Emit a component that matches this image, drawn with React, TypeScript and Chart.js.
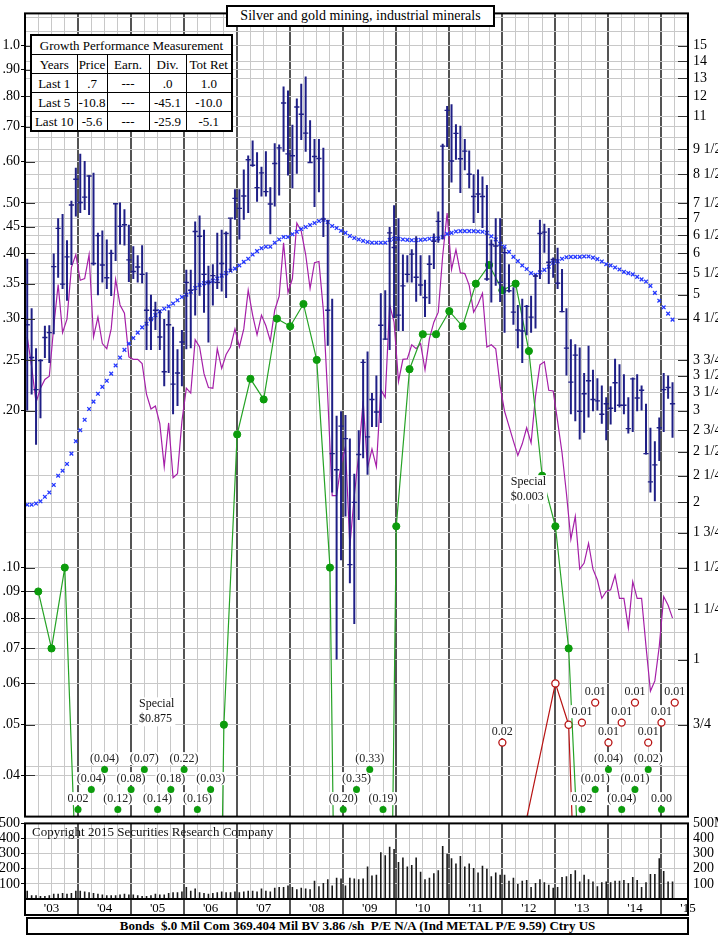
import React, { useEffect, useRef } from 'react';
import { Chart, registerables } from 'chart.js';

Chart.register(...registerables);

const SERIF = '"Liberation Serif", "Times New Roman", "DejaVu Serif", serif';

// ---------- time axis ----------
const FIRST_YEAR = 2003;
const LAST_X = 2015.5;
const YEAR_LABELS = ["'03", "'04", "'05", "'06", "'07", "'08", "'09", "'10", "'11", "'12", "'13", "'14", "'15"];

// ---------- price scale ----------
const PE_RATIO = 15; // left (earnings) scale = price scale / 15
const PRICE_MIN = 0.5;
const PRICE_MAX = 17.3;

// monthly price range, Jan 2003 .. Mar 2015
const PRICE_HIGH = [
  5.86, 4.71, 3.95, 3.76, 4.36, 4.37, 6.0, 7.01, 7.14, 6.36, 7.57, 8.76,
  9.31, 9.02, 8.47, 8.56, 6.57, 6.64, 6.38, 6.1, 7.49, 7.51, 7.29, 6.81,
  6.19, 5.95, 6.22, 5.52, 5.0, 4.85, 4.67, 4.49, 4.67, 4.34, 3.93, 4.28,
  5.58, 5.58, 6.91, 7.09, 6.66, 5.68, 5.72, 6.57, 6.66, 6.61, 7.01, 7.96,
  7.96, 8.69, 9.24, 9.87, 9.38, 8.79, 9.42, 8.03, 9.76, 9.7, 12.53, 12.31,
  10.58, 11.89, 12.69, 13.09, 10.8, 9.94, 9.94, 9.56, 6.96, 4.91, 2.93, 2.99,
  2.94, 2.65, 2.27, 2.75, 3.76, 3.89, 3.24, 3.5, 5.03, 5.1, 6.74, 7.42,
  7.01, 5.97, 5.95, 6.11, 6.47, 5.95, 5.34, 5.95, 6.55, 7.22, 9.73, 11.5,
  11.59, 10.61, 10.54, 9.94, 9.45, 8.51, 8.69, 8.42, 8.11, 6.38, 7.01, 7.01,
  6.15, 5.72, 5.17, 4.78, 4.91, 4.78, 4.98, 5.47, 6.96, 6.84, 6.71, 5.89,
  6.15, 5.6, 4.71, 4.11, 4.02, 3.96, 3.54, 3.99, 3.59, 3.46, 3.35, 3.18,
  3.34, 3.77, 3.68, 3.52, 3.18, 3.47, 3.52, 3.35, 3.09, 2.78, 2.62, 2.91,
  3.54, 3.5, 3.4,
];
const PRICE_LOW = [
  3.0, 3.22, 2.58, 2.9, 3.78, 3.7, 4.2, 5.39, 5.13, 4.87, 5.7, 7.06,
  7.17, 7.27, 7.11, 5.69, 4.99, 5.28, 5.13, 4.97, 5.8, 6.24, 6.21, 5.29,
  5.36, 5.28, 5.26, 3.92, 3.92, 4.28, 3.92, 3.34, 3.54, 2.95, 3.06, 3.34,
  3.93, 3.95, 4.56, 4.98, 4.62, 4.05, 4.77, 5.13, 5.07, 4.93, 5.53, 6.96,
  6.38, 6.96, 7.17, 8.79, 7.54, 7.71, 7.71, 6.53, 7.38, 7.75, 9.4, 8.46,
  8.0, 8.53, 9.9, 9.4, 8.95, 7.36, 7.86, 6.45, 3.99, 2.09, 1.0, 1.55,
  1.88, 1.4, 1.17, 1.85, 2.43, 2.26, 2.79, 2.79, 2.84, 4.1, 3.92, 4.51,
  4.26, 4.26, 5.28, 5.28, 4.85, 4.98, 4.53, 4.8, 5.6, 6.29, 6.38, 9.59,
  8.2, 9.07, 7.83, 8.66, 8.0, 6.86, 7.17, 6.71, 5.32, 4.83, 5.2, 4.84,
  4.23, 5.05, 4.38, 3.95, 3.7, 4.18, 4.23, 4.31, 5.36, 6.02, 5.24, 5.39,
  5.13, 4.63, 3.5, 2.95, 2.86, 2.64, 2.72, 2.91, 2.99, 3.0, 2.83, 2.63,
  2.82, 2.98, 3.04, 2.95, 2.71, 2.73, 2.99, 3.0, 2.47, 2.09, 2.01, 2.4,
  2.73, 3.16, 2.66,
];
const PRICE_CLOSE = [
  4.38, 3.79, 3.29, 3.74, 4.14, 4.23, 5.66, 6.7, 5.24, 5.91, 7.43, 8.32,
  7.51, 7.69, 8.44, 5.74, 6.49, 5.7, 5.39, 6.0, 7.47, 6.76, 6.81, 5.83,
  5.54, 5.65, 5.47, 4.67, 4.49, 4.67, 4.15, 3.56, 4.38, 3.37, 3.54, 4.06,
  5.28, 5.1, 6.61, 6.47, 5.47, 5.28, 5.44, 5.28, 5.74, 6.55, 7.01, 7.65,
  7.32, 7.73, 9.07, 8.85, 8.02, 8.56, 7.88, 7.46, 8.92, 9.56, 11.65, 9.31,
  9.23, 11.45, 11.09, 10.2, 8.96, 9.2, 9.12, 6.98, 4.67, 2.48, 2.31, 2.8,
  2.65, 1.52, 2.0, 2.47, 3.71, 2.67, 3.15, 2.98, 4.37, 4.11, 6.57, 6.16,
  4.57, 5.2, 5.47, 5.98, 5.4, 5.22, 4.94, 5.72, 6.33, 6.91, 9.63, 11.28,
  9.02, 10.19, 9.11, 9.42, 8.51, 7.71, 7.8, 7.71, 5.36, 6.24, 6.2, 5.28,
  6.02, 5.09, 4.63, 4.28, 4.26, 4.75, 4.53, 5.43, 6.55, 6.59, 5.77, 5.84,
  5.26, 4.64, 3.95, 3.4, 3.83, 2.99, 3.23, 3.42, 3.15, 3.13, 2.95, 3.09,
  3.03, 3.39, 3.07, 3.07, 2.77, 3.45, 3.17, 3.28, 2.48, 2.19, 2.36, 2.78,
  3.29, 3.32, 3.09,
];
// moving average (blue x)
const MOVING_AVG = [
  1.98, 1.98, 1.99, 2.01, 2.05, 2.09, 2.16, 2.25, 2.3, 2.37, 2.48, 2.62,
  2.75, 2.88, 3.02, 3.12, 3.23, 3.33, 3.42, 3.53, 3.66, 3.79, 3.92, 4.03,
  4.13, 4.23, 4.33, 4.4, 4.49, 4.57, 4.65, 4.7, 4.75, 4.81, 4.88, 4.95,
  5.0, 5.07, 5.15, 5.22, 5.26, 5.28, 5.32, 5.37, 5.44, 5.5, 5.56, 5.61,
  5.69, 5.78, 5.86, 5.97, 6.06, 6.14, 6.18, 6.18, 6.29, 6.38, 6.45, 6.45,
  6.53, 6.6, 6.68, 6.74, 6.8, 6.86, 6.92, 6.96, 6.89, 6.77, 6.71, 6.63,
  6.57, 6.48, 6.42, 6.38, 6.34, 6.31, 6.29, 6.29, 6.29, 6.29, 6.37, 6.4,
  6.4, 6.38, 6.37, 6.36, 6.36, 6.37, 6.38, 6.4, 6.4, 6.41, 6.45, 6.54,
  6.57, 6.61, 6.62, 6.62, 6.62, 6.62, 6.61, 6.6, 6.57, 6.47, 6.38, 6.26,
  6.18, 6.04, 5.91, 5.8, 5.69, 5.6, 5.5, 5.46, 5.52, 5.58, 5.66, 5.76,
  5.8, 5.86, 5.9, 5.91, 5.91, 5.91, 5.92, 5.92, 5.89, 5.85, 5.79, 5.72,
  5.69, 5.64, 5.59, 5.53, 5.5, 5.47, 5.41, 5.35, 5.3, 5.2, 5.04, 4.87,
  4.73, 4.6, 4.48,
];
// relative strength (purple)
const REL_STRENGTH = [
  4.15, 3.64, 3.11, 3.31, 3.44, 3.49, 4.34, 5.23, 4.23, 4.49, 5.64, 5.97,
  5.33, 5.37, 5.97, 4.15, 4.53, 4.03, 3.94, 4.3, 5.35, 4.78, 4.61, 3.8,
  3.76, 3.76, 3.69, 3.22, 3.02, 3.06, 2.83, 2.34, 2.84, 2.23, 2.27, 2.86,
  3.31, 3.24, 4.1, 3.97, 3.53, 3.32, 3.31, 3.94, 3.61, 3.84, 3.97, 4.3,
  3.97, 4.3, 5.1, 4.57, 4.19, 4.57, 4.36, 4.08, 4.67, 4.97, 6.29, 5.05,
  5.37, 6.86, 6.62, 5.97, 5.14, 5.76, 5.79, 4.67, 3.18, 2.06, 2.06, 2.36,
  2.56, 1.65, 2.06, 2.47, 3.13, 2.33, 2.53, 2.34, 3.29, 3.18, 4.78, 4.43,
  3.41, 3.76, 3.77, 4.01, 3.94, 4.03, 3.59, 4.12, 4.43, 4.63, 5.94, 7.17,
  5.59, 6.1, 5.51, 5.49, 5.21, 4.63, 4.8, 5.03, 3.97, 4.01, 3.94, 3.34,
  2.99, 2.8, 2.62, 2.46, 2.59, 2.78, 2.6, 3.2, 3.67, 3.72, 3.28, 3.27,
  2.86, 2.49, 2.08, 1.7, 1.88, 1.49, 1.53, 1.67, 1.49, 1.42, 1.31, 1.35,
  1.36, 1.45, 1.31, 1.31, 1.15, 1.41, 1.31, 1.31, 1.06, 0.87, 0.91, 1.06,
  1.32, 1.27, 1.2,
];
// monthly volume (thousands)
const VOLUME = [
  55, 25, 25, 20, 20, 25, 35, 35, 40, 35, 40, 55,
  55, 50, 45, 40, 35, 30, 25, 25, 25, 30, 35, 30,
  30, 25, 20, 20, 25, 35, 30, 30, 40, 45, 45, 50,
  80, 55, 70, 45, 40, 35, 40, 45, 50, 45, 45, 50,
  45, 50, 55, 55, 50, 70, 55, 50, 75, 80, 80, 90,
  80, 65, 75, 70, 65, 120, 85, 105, 130, 90, 140, 135,
  90, 140, 135, 130, 135, 215, 155, 160, 310, 290, 345, 330,
  245, 275, 215, 225, 275, 180, 130, 140, 170, 190, 350, 300,
  270, 235, 285, 215, 235, 205, 175, 220, 200, 150, 175, 160,
  160, 120, 140, 100, 120, 125, 80, 105, 130, 110, 95, 75,
  80, 145, 150, 165, 190, 115, 160, 130, 115, 85, 110, 115,
  110, 120, 120, 125, 105, 145, 125, 80, 110, 165, 165, 270,
  185, 115, 115,
];

// quarterly earnings (12-month), plotted on the left scale
const EARN_DATES = [
  2003.25, 2003.5, 2003.75,
  2004.0, 2004.25, 2004.5, 2004.75, 2005.0, 2005.25, 2005.5, 2005.75,
  2006.0, 2006.25, 2006.5, 2006.75, 2007.0, 2007.25, 2007.5, 2007.75,
  2008.0, 2008.25, 2008.5, 2008.75, 2009.0, 2009.25, 2009.5, 2009.75,
  2010.0, 2010.25, 2010.5, 2010.75, 2011.0, 2011.25, 2011.5, 2011.75,
  2012.0, 2012.25, 2012.5, 2012.75, 2013.0, 2013.25, 2013.5, 2013.75,
  2014.0, 2014.25, 2014.5, 2014.75, 2015.0,
];
const EARNINGS = [
  0.09, 0.07, 0.1,
  0.02, -0.04, -0.04, -0.12, -0.08, -0.07, -0.14, -0.18,
  -0.22, -0.16, -0.03, 0.05, 0.18, 0.23, 0.21, 0.3,
  0.29, 0.32, 0.25, 0.1, -0.2, -0.35, -0.33, -0.19,
  0.12, 0.24, 0.28, 0.28, 0.31, 0.29, 0.35, 0.38,
  0.34, 0.35, 0.26, 0.15, 0.12, 0.07, 0.02, -0.01,
  -0.04, -0.04, -0.01, -0.02, 0.0,
];
// dividends (red)
const DIV_DATES = [2012.0, 2013.0, 2013.25, 2013.5, 2013.75, 2014.0, 2014.25, 2014.5, 2014.75, 2015.0, 2015.25];
const DIVIDENDS = [0.02, 0.06, 0.05, 0.01, 0.01, 0.01, 0.01, 0.01, 0.01, 0.01, 0.01];

// ---------- axis labels ----------
const RIGHT_LABELS: [number, string][] = [
  [15, '15'], [14, '14'], [13, '13'], [12, '12'], [11, '11'], [9.5, '9 1/2'], [8.5, '8 1/2'],
  [7.5, '7 1/2'], [7, '7'], [6.5, '6 1/2'], [6, '6'], [5.5, '5 1/2'], [5, '5'], [4.5, '4 1/2'],
  [3.75, '3 3/4'], [3.5, '3 1/2'], [3.25, '3 1/4'], [3, '3'], [2.75, '2 3/4'], [2.5, '2 1/2'],
  [2.25, '2 1/4'], [2, '2'], [1.75, '1 3/4'], [1.5, '1 1/2'], [1.25, '1 1/4'], [1, '1'], [0.75, '3/4'],
];
const LEFT_LABELS: [number, string][] = [
  [1.0, '1.0'], [0.9, '.90'], [0.8, '.80'], [0.7, '.70'], [0.6, '.60'], [0.5, '.50'], [0.45, '.45'],
  [0.4, '.40'], [0.35, '.35'], [0.3, '.30'], [0.25, '.25'], [0.2, '.20'], [0.1, '.10'], [0.09, '.09'],
  [0.08, '.08'], [0.07, '.07'], [0.06, '.06'], [0.05, '.05'], [0.04, '.04'],
];
const PRICE_GRID = [
  17, 16, 15, 14, 13.5, 13, 12, 11, 10.5, 10, 9.5, 9, 8.5, 8, 7.5, 7, 6.75, 6.5, 6.25, 6, 5.75,
  5.5, 5.25, 5, 4.75, 4.5, 4.25, 4, 3.75, 3.5, 3.25, 3, 2.75, 2.5, 2.25, 2, 1.875, 1.75, 1.625,
  1.5, 1.35, 1.25, 1.2, 1.125, 1.05, 1, 0.9, 0.75, 0.625, 0.6, 0.5,
];
const VOL_TICKS = [100, 200, 300, 400, 500];

const TITLE = 'Silver and gold mining, industrial minerals';
const COPYRIGHT = 'Copyright 2015 Securities Research Company';
const FOOTER = 'Bonds  $.0 Mil Com 369.404 Mil BV 3.86 /sh  P/E N/A (Ind METAL P/E 9.59) Ctry US';
const GROWTH_TITLE = 'Growth Performance Measurement';
const GROWTH_HEAD = ['Years', 'Price', 'Earn.', 'Div.', 'Tot Ret'];
const GROWTH_ROWS = [
  ['Last 1', '.7', '---', '.0', '1.0'],
  ['Last 5', '-10.8', '---', '-45.1', '-10.0'],
  ['Last 10', '-5.6', '---', '-25.9', '-5.1'],
];
const NOTES = [
  { x: 2005.15, y: 0.0547, lines: ['Special', '$0.875'] },
  { x: 2012.16, y: 0.1458, lines: ['Special', '$0.003'] },
];

// ---------- styles ----------
const GRID_LINE = '#c8c8c8';
const YEAR_LINE = '#545454';
const BAR_COLOR = '#1f1f86';
const MA_COLOR = '#2538ff';
const RS_COLOR = '#a51fa8';
const EARN_LINE = '#26a326';
const EARN_DOT = '#0c9c0c';
const DIV_COLOR = '#b81414';
const OFF_SCALE = 0.001;

const RIGHT_MAP = new Map(RIGHT_LABELS);
const LEFT_MAP = new Map(LEFT_LABELS);
const monthX = (i: number) => FIRST_YEAR + (i + 0.5) / 12;
const quarterTicks = () => {
  const t: any[] = [];
  for (let v = FIRST_YEAR; v <= LAST_X + 1e-9; v += 0.25) t.push({ value: v });
  return t;
};
const isYearTick = (c: any) => c.tick && Math.abs(c.tick.value - Math.round(c.tick.value)) < 1e-6;

const xAxis = (withLabels: boolean): any => ({
  type: 'linear',
  min: FIRST_YEAR,
  max: LAST_X,
  offset: false,
  afterBuildTicks: (s: any) => { s.ticks = quarterTicks(); },
  afterFit: (s: any) => { s.height = withLabels ? 16 : 0; },
  grid: {
    offset: false,
    drawTicks: false,
    color: (c: any) => (isYearTick(c) ? YEAR_LINE : GRID_LINE),
    lineWidth: (c: any) => (isYearTick(c) ? 2 : 1),
  },
  border: { display: false },
  ticks: withLabels
    ? {
        autoSkip: false,
        maxRotation: 0,
        padding: 2,
        color: '#000',
        font: { family: SERIF, size: 13 },
        callback: (v: number) => {
          const f = v - Math.floor(v);
          return Math.abs(f - 0.5) < 1e-6 ? YEAR_LABELS[Math.floor(v) - FIRST_YEAR] ?? '' : '';
        },
      }
    : { display: false },
});

function line(ctx: CanvasRenderingContext2D, x1: number, y1: number, x2: number, y2: number) {
  ctx.beginPath();
  ctx.moveTo(x1, y1);
  ctx.lineTo(x2, y2);
  ctx.stroke();
}

function labelWithBg(ctx: CanvasRenderingContext2D, txt: string, x: number, y: number) {
  const w = ctx.measureText(txt).width;
  ctx.fillStyle = '#fff';
  ctx.fillRect(x - w / 2 - 1, y - 6.5, w + 2, 13);
  ctx.fillStyle = '#222';
  ctx.fillText(txt, x, y);
}

function drawOffScale(
  ctx: CanvasRenderingContext2D, xs: any, area: any, dates: number[], values: number[],
  minV: number, rows: number[], runStarts: number[], hollow: boolean, color: string,
) {
  let run = -1;
  let k = 0;
  let inRun = false;
  ctx.font = `12px ${SERIF}`;
  ctx.textAlign = 'center';
  ctx.textBaseline = 'middle';
  values.forEach((v, i) => {
    if (v >= minV) { inRun = false; return; }
    if (!inRun) { run += 1; inRun = true; k = runStarts[run] ?? 0; }
    const y = area.bottom - rows[k % rows.length];
    k += 1;
    const x = xs.getPixelForValue(dates[i]);
    const txt = v < 0 ? `(${Math.abs(v).toFixed(2)})` : v.toFixed(2);
    labelWithBg(ctx, txt, x, y - 11);
    ctx.beginPath();
    ctx.arc(x, y, 3.5, 0, Math.PI * 2);
    if (hollow) {
      ctx.fillStyle = '#fff';
      ctx.fill();
      ctx.lineWidth = 1.3;
      ctx.strokeStyle = color;
      ctx.stroke();
    } else {
      ctx.fillStyle = color;
      ctx.fill();
    }
  });
}

const priceDecor = {
  id: 'priceDecor',
  afterDatasetsDraw(chart: any) {
    const { ctx, chartArea: a, scales } = chart;
    const xs = scales.x;
    const yL = scales.yL;
    const yR = scales.y;
    const minL = PRICE_MIN / PE_RATIO;
    ctx.save();
    drawOffScale(ctx, xs, a, EARN_DATES, EARNINGS, minL, [7, 27, 47], [0, 0, 0], false, EARN_DOT);
    drawOffScale(ctx, xs, a, DIV_DATES, DIVIDENDS, minL, [74, 94, 114], [0, 1], true, DIV_COLOR);

    // notes
    ctx.font = `12px ${SERIF}`;
    ctx.textAlign = 'left';
    ctx.textBaseline = 'middle';
    NOTES.forEach((n) => {
      const x = xs.getPixelForValue(n.x);
      const y = yL.getPixelForValue(n.y);
      const w = Math.max(...n.lines.map((l) => ctx.measureText(l).width));
      ctx.fillStyle = '#fff';
      ctx.fillRect(x - 1, y - 7, w + 2, n.lines.length * 14.5);
      ctx.fillStyle = '#111';
      n.lines.forEach((l, i) => ctx.fillText(l, x, y + i * 14.5));
    });

    // inward ticks
    ctx.strokeStyle = '#333';
    ctx.lineWidth = 1;
    RIGHT_LABELS.forEach(([v]) => {
      const y = Math.round(yR.getPixelForValue(v)) + 0.5;
      line(ctx, a.right - 10, y, a.right, y);
    });
    LEFT_LABELS.forEach(([v]) => {
      const y = Math.round(yL.getPixelForValue(v)) + 0.5;
      line(ctx, a.left, y, a.left + 10, y);
    });

    // frame
    ctx.strokeStyle = '#000';
    ctx.lineWidth = 2;
    ctx.strokeRect(a.left, a.top, a.right - a.left, a.bottom - a.top);
    ctx.restore();
  },
};

const volDecor = {
  id: 'volDecor',
  afterDraw(chart: any) {
    const { ctx, chartArea: a, scales } = chart;
    const xs = scales.x;
    ctx.save();
    ctx.fillStyle = '#111';
    ctx.font = `13px ${SERIF}`;
    ctx.textAlign = 'left';
    ctx.textBaseline = 'middle';
    ctx.fillText(COPYRIGHT, a.left + 7, a.top + 9);
    ctx.strokeStyle = YEAR_LINE;
    ctx.lineWidth = 2;
    for (let yr = FIRST_YEAR + 1; yr < LAST_X; yr += 1) {
      const x = Math.round(xs.getPixelForValue(yr));
      line(ctx, x, a.bottom, x, a.bottom + 16);
    }
    ctx.strokeStyle = '#000';
    ctx.lineWidth = 2;
    ctx.strokeRect(a.left, a.top, a.right - a.left, a.bottom - a.top + 16);
    line(ctx, a.left, a.bottom, a.right, a.bottom);
    ctx.restore();
  },
};

function priceConfig(): any {
  const minL = PRICE_MIN / PE_RATIO;
  const onScale = (c: any) => c.raw && c.raw.v >= minL;
  return {
    type: 'bar',
    data: {
      datasets: [
        {
          type: 'line',
          label: 'Close',
          data: PRICE_CLOSE.map((c, i) => ({ x: monthX(i), y: c })),
          showLine: false,
          pointStyle: 'line',
          pointRadius: 2.6,
          pointBorderWidth: 1.4,
          pointBorderColor: BAR_COLOR,
          pointBackgroundColor: BAR_COLOR,
          yAxisID: 'y',
          order: 0,
        },
        {
          type: 'bar',
          label: 'Range',
          data: PRICE_HIGH.map((h, i) => ({ x: monthX(i), y: [PRICE_LOW[i], h] })),
          backgroundColor: BAR_COLOR,
          borderWidth: 0,
          inflateAmount: 0,
          barThickness: 2,
          yAxisID: 'y',
          order: 1,
        },
        {
          type: 'line',
          label: 'Moving average',
          data: MOVING_AVG.map((v, i) => ({ x: monthX(i), y: v })),
          showLine: false,
          pointStyle: 'crossRot',
          pointRadius: 2.6,
          pointBorderWidth: 1.3,
          pointBorderColor: MA_COLOR,
          pointBackgroundColor: MA_COLOR,
          yAxisID: 'y',
          order: 2,
        },
        {
          type: 'line',
          label: 'Earnings',
          data: EARNINGS.map((v, i) => ({ x: EARN_DATES[i], y: v > 0 ? v : OFF_SCALE, v })),
          borderColor: EARN_LINE,
          borderWidth: 1.2,
          tension: 0,
          pointRadius: (c: any) => (onScale(c) ? 3.6 : 0),
          pointBackgroundColor: EARN_DOT,
          pointBorderColor: EARN_DOT,
          pointBorderWidth: 1,
          yAxisID: 'yL',
          order: 3,
        },
        {
          type: 'line',
          label: 'Dividends',
          data: DIVIDENDS.map((v, i) => ({ x: DIV_DATES[i], y: v > 0 ? v : OFF_SCALE, v })),
          borderColor: DIV_COLOR,
          borderWidth: 1.2,
          tension: 0,
          pointRadius: (c: any) => (onScale(c) ? 3.6 : 0),
          pointBackgroundColor: '#fff',
          pointBorderColor: DIV_COLOR,
          pointBorderWidth: 1.3,
          yAxisID: 'yL',
          order: 4,
        },
        {
          type: 'line',
          label: 'Relative strength',
          data: REL_STRENGTH.map((v, i) => ({ x: monthX(i), y: v })),
          borderColor: RS_COLOR,
          borderWidth: 1.2,
          tension: 0,
          pointRadius: 0,
          yAxisID: 'y',
          order: 5,
        },
      ],
    },
    options: {
      responsive: false,
      animation: false,
      devicePixelRatio: 1,
      events: [],
      layout: { padding: { top: 8, bottom: 10, left: 0, right: 0 } },
      plugins: { legend: { display: false }, tooltip: { enabled: false } },
      scales: {
        x: xAxis(false),
        y: {
          type: 'logarithmic',
          position: 'right',
          min: PRICE_MIN,
          max: PRICE_MAX,
          afterBuildTicks: (s: any) => { s.ticks = PRICE_GRID.map((v) => ({ value: v })); },
          afterFit: (s: any) => { s.width = 30; },
          grid: { color: GRID_LINE, lineWidth: 1, drawTicks: false },
          border: { display: false },
          ticks: {
            autoSkip: false,
            padding: 5,
            color: '#000',
            font: { family: SERIF, size: 14 },
            callback: (v: number) => RIGHT_MAP.get(v) ?? '',
          },
        },
        yL: {
          type: 'logarithmic',
          position: 'left',
          min: PRICE_MIN / PE_RATIO,
          max: PRICE_MAX / PE_RATIO,
          afterBuildTicks: (s: any) => { s.ticks = LEFT_LABELS.map(([v]) => ({ value: v })); },
          afterFit: (s: any) => { s.width = 25; },
          grid: { drawOnChartArea: false, drawTicks: true, tickLength: 4, tickColor: '#000', color: '#000' },
          border: { display: false },
          ticks: {
            autoSkip: false,
            padding: 1,
            color: '#000',
            font: { family: SERIF, size: 14 },
            callback: (v: number) => LEFT_MAP.get(v) ?? '',
          },
        },
      },
    },
    plugins: [priceDecor],
  };
}

function volumeConfig(): any {
  return {
    type: 'bar',
    data: {
      datasets: [
        {
          type: 'bar',
          label: 'Volume',
          data: VOLUME.map((v, i) => ({ x: monthX(i), y: v })),
          backgroundColor: '#1a1a1a',
          borderWidth: 0,
          inflateAmount: 0,
          barThickness: 1.6,
          yAxisID: 'y',
        },
      ],
    },
    options: {
      responsive: false,
      animation: false,
      devicePixelRatio: 1,
      events: [],
      layout: { padding: { top: 10, bottom: 5, left: 0, right: 0 } },
      plugins: { legend: { display: false }, tooltip: { enabled: false } },
      scales: {
        x: xAxis(true),
        y: {
          type: 'linear',
          position: 'right',
          min: 0,
          max: 500,
          beginAtZero: true,
          afterBuildTicks: (s: any) => { s.ticks = VOL_TICKS.map((v) => ({ value: v })); },
          afterFit: (s: any) => { s.width = 30; },
          grid: { color: GRID_LINE, lineWidth: 1, drawTicks: false },
          border: { display: false },
          ticks: {
            autoSkip: false,
            padding: 5,
            color: '#000',
            font: { family: SERIF, size: 14 },
            callback: (v: number) => (v === 500 ? '500M' : String(v)),
          },
        },
        yL: {
          type: 'linear',
          position: 'left',
          min: 0,
          max: 500,
          afterBuildTicks: (s: any) => { s.ticks = VOL_TICKS.map((v) => ({ value: v })); },
          afterFit: (s: any) => { s.width = 25; },
          grid: { drawOnChartArea: false, drawTicks: true, tickLength: 4, tickColor: '#000', color: '#000' },
          border: { display: false },
          ticks: {
            autoSkip: false,
            padding: 1,
            color: '#000',
            font: { family: SERIF, size: 14 },
            callback: (v: number) => String(v),
          },
        },
      },
    },
    plugins: [volDecor],
  };
}

const cell: React.CSSProperties = {
  border: '1px solid #000',
  padding: 0,
  height: 18,
  lineHeight: '17px',
  textAlign: 'center',
  whiteSpace: 'nowrap',
  overflow: 'hidden',
};

export default function App() {
  const priceRef = useRef<HTMLCanvasElement>(null);
  const volRef = useRef<HTMLCanvasElement>(null);

  useEffect(() => {
    document.body.style.margin = '0';
    const c1 = new Chart(priceRef.current as HTMLCanvasElement, priceConfig());
    const c2 = new Chart(volRef.current as HTMLCanvasElement, volumeConfig());
    return () => {
      c1.destroy();
      c2.destroy();
    };
  }, []);

  return (
    <div
      style={{
        position: 'absolute',
        left: 0,
        top: 0,
        width: 718,
        height: 937,
        overflow: 'hidden',
        background: '#fff',
        fontFamily: SERIF,
        color: '#000',
      }}
    >
      <canvas ref={priceRef} width={718} height={830} style={{ position: 'absolute', left: 0, top: 0 }} />
      <canvas ref={volRef} width={718} height={110} style={{ position: 'absolute', left: 0, top: 810 }} />

      <div
        style={{
          position: 'absolute',
          left: 226,
          top: 5,
          width: 269,
          height: 22,
          boxSizing: 'border-box',
          border: '2px solid #000',
          background: '#fff',
          font: `14px ${SERIF}`,
          textAlign: 'center',
          lineHeight: '18px',
          whiteSpace: 'nowrap',
        }}
      >
        {TITLE}
      </div>

      <table
        style={{
          position: 'absolute',
          left: 30,
          top: 34,
          width: 201,
          borderCollapse: 'collapse',
          tableLayout: 'fixed',
          background: '#fff',
          font: `13px ${SERIF}`,
          border: '2px solid #000',
        }}
      >
        <colgroup>
          <col style={{ width: 46 }} />
          <col style={{ width: 30 }} />
          <col style={{ width: 42 }} />
          <col style={{ width: 37 }} />
          <col style={{ width: 46 }} />
        </colgroup>
        <tbody>
          <tr>
            <td colSpan={5} style={cell}>{GROWTH_TITLE}</td>
          </tr>
          <tr>
            {GROWTH_HEAD.map((h) => (
              <td key={h} style={cell}>{h}</td>
            ))}
          </tr>
          {GROWTH_ROWS.map((r) => (
            <tr key={r[0]}>
              {r.map((c, i) => (
                <td key={i} style={cell}>{c}</td>
              ))}
            </tr>
          ))}
        </tbody>
      </table>

      <div
        style={{
          position: 'absolute',
          left: 26,
          top: 917,
          width: 663,
          height: 18,
          boxSizing: 'border-box',
          border: '2px solid #000',
          background: '#fff',
          font: `bold 13px ${SERIF}`,
          textAlign: 'center',
          lineHeight: '14px',
          whiteSpace: 'pre',
        }}
      >
        {FOOTER}
      </div>
    </div>
  );
}
